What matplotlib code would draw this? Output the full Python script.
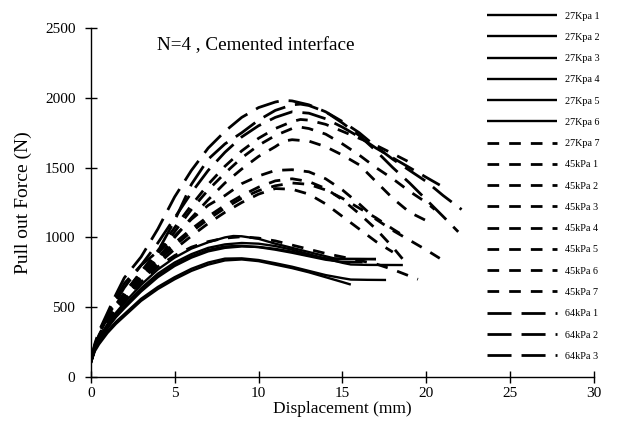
import matplotlib.pyplot as plt

plt.rcParams["font.family"] = ["Liberation Serif", "DejaVu Serif"]
plt.rcParams["lines.scale_dashes"] = False

# 27 kPa, solid curves 1-6 and dashed 7
disp_27_1 = [0, 0.25, 0.5, 1, 1.5, 2, 3, 4, 5, 6, 7, 8, 8.5, 9, 10, 11, 12, 13, 14, 14.5, 15, 16, 17]
force_27_1 = [110, 210, 280, 380, 460, 530, 660, 770, 855, 920, 965, 1000, 1010, 1008, 990, 955, 925, 895, 865, 850, 846, 845, 843]
disp_27_2 = [0, 0.25, 0.5, 1, 1.5, 2, 3, 4, 5, 6, 7, 8, 9, 10, 11, 12, 13, 14, 15, 15.5, 16.5, 18.6]
force_27_2 = [105, 205, 270, 365, 445, 510, 635, 740, 820, 880, 925, 950, 960, 955, 938, 912, 880, 848, 818, 806, 803, 802]
disp_27_3 = [0, 0.25, 0.5, 1, 1.5, 2, 3, 4, 5, 6, 7, 8, 9, 10, 11, 12, 13, 14, 15, 16.2]
force_27_3 = [100, 200, 265, 355, 435, 500, 620, 725, 805, 865, 910, 935, 940, 930, 912, 890, 865, 840, 825, 822]
disp_27_4 = [0, 0.25, 0.5, 1, 1.5, 2, 3, 4, 5, 6, 7, 8, 9, 10, 11, 12, 13, 14, 15, 15.5, 16.5, 17.6]
force_27_4 = [105, 195, 250, 330, 395, 450, 560, 645, 715, 775, 820, 848, 850, 838, 815, 790, 760, 730, 708, 698, 696, 695]
disp_27_5 = [0, 0.25, 0.5, 1, 1.5, 2, 3, 4, 5, 6, 7, 8, 9, 10, 11, 12, 13, 14, 15, 15.5]
force_27_5 = [100, 185, 235, 315, 380, 435, 545, 630, 700, 760, 805, 835, 842, 830, 805, 780, 750, 715, 680, 662]
disp_27_6 = [0, 0.25, 0.5, 1, 1.5, 2, 3, 4, 5, 6, 7, 8, 9, 10, 11, 12, 13, 14, 15, 17]
force_27_6 = [100, 200, 262, 350, 428, 492, 612, 715, 795, 855, 900, 925, 935, 932, 918, 898, 870, 850, 845, 846]
disp_27_7 = [0, 0.25, 0.5, 1, 1.5, 2, 3, 4, 5, 6, 7, 8, 9, 10, 11, 12, 13, 14, 15, 16, 17, 18, 19.5]
force_27_7 = [110, 215, 290, 395, 480, 550, 680, 790, 870, 930, 970, 995, 1005, 995, 975, 945, 915, 885, 860, 835, 810, 770, 700]

# 45 kPa, short dashes
disp_45_1 = [0, 0.25, 0.5, 1, 1.5, 2, 3, 4, 5, 6, 7, 8, 9, 10, 11, 12, 12.5, 13, 14, 15, 16, 17, 18, 19.3]
force_45_1 = [105, 215, 290, 405, 510, 600, 755, 905, 1070, 1230, 1380, 1510, 1620, 1710, 1780, 1830, 1845, 1840, 1810, 1760, 1710, 1660, 1600, 1520]
disp_45_2 = [0, 0.25, 0.5, 1, 1.5, 2, 3, 4, 5, 6, 7, 8, 9, 10, 11, 12, 12.5, 13, 14, 15, 16, 17, 18, 19, 20, 20.5]
force_45_2 = [105, 210, 285, 395, 495, 585, 735, 880, 1040, 1200, 1340, 1460, 1570, 1660, 1730, 1780, 1790, 1780, 1740, 1670, 1590, 1500, 1420, 1330, 1250, 1200]
disp_45_3 = [0, 0.25, 0.5, 1, 1.5, 2, 3, 4, 5, 6, 7, 8, 9, 10, 11, 11.5, 12, 13, 14, 15, 16, 17, 18, 19, 20]
force_45_3 = [100, 205, 280, 385, 480, 565, 710, 850, 1000, 1140, 1270, 1390, 1490, 1580, 1650, 1690, 1700, 1690, 1650, 1590, 1520, 1400, 1280, 1180, 1120]
disp_45_4 = [0, 0.25, 0.5, 1, 1.5, 2, 3, 4, 5, 6, 7, 8, 9, 10, 11, 12, 13, 14, 15, 16, 17, 18, 19, 20, 20.8]
force_45_4 = [110, 220, 300, 420, 520, 600, 750, 890, 1010, 1130, 1230, 1300, 1385, 1440, 1480, 1485, 1470, 1420, 1340, 1240, 1130, 1050, 980, 910, 850]
disp_45_5 = [0, 0.25, 0.5, 1, 1.5, 2, 3, 4, 5, 6, 7, 8, 9, 10, 11, 12, 13, 14, 15, 16, 17, 18, 18.9]
force_45_5 = [110, 220, 300, 410, 500, 575, 720, 850, 960, 1060, 1150, 1230, 1300, 1360, 1405, 1420, 1400, 1350, 1270, 1170, 1060, 930, 800]
disp_45_6 = [0, 0.25, 0.5, 1, 1.5, 2, 3, 4, 5, 6, 7, 8, 9, 10, 11, 12, 13, 14, 15, 16, 17, 18, 18.8]
force_45_6 = [105, 210, 290, 400, 490, 565, 705, 830, 940, 1040, 1130, 1210, 1280, 1335, 1370, 1390, 1380, 1340, 1280, 1210, 1140, 1060, 1000]
disp_45_7 = [0, 0.25, 0.5, 1, 1.5, 2, 3, 4, 5, 6, 7, 8, 9, 10, 11, 12, 13, 14, 15, 16, 17, 18]
force_45_7 = [100, 205, 280, 390, 478, 550, 690, 810, 915, 1010, 1100, 1180, 1250, 1310, 1350, 1345, 1310, 1240, 1150, 1060, 970, 895]

# 64 kPa, long dashes
disp_64_1 = [0, 0.25, 0.5, 1, 1.5, 2, 3, 4, 5, 6, 7, 8, 9, 10, 11, 11.5, 12, 13, 14, 15, 16, 17, 18, 19, 20, 21, 22.1]
force_64_1 = [120, 240, 330, 460, 590, 710, 860, 1060, 1290, 1480, 1640, 1760, 1860, 1930, 1970, 1982, 1978, 1950, 1900, 1830, 1750, 1650, 1560, 1480, 1400, 1300, 1200]
disp_64_2 = [0, 0.25, 0.5, 1, 1.5, 2, 3, 4, 5, 6, 7, 8, 9, 10, 11, 12, 12.5, 13, 14, 15, 16, 17, 18, 19, 20, 21, 21.9]
force_64_2 = [115, 230, 315, 440, 560, 670, 800, 900, 1120, 1380, 1560, 1670, 1750, 1840, 1910, 1950, 1955, 1945, 1900, 1820, 1730, 1620, 1500, 1390, 1270, 1150, 1040]
disp_64_3 = [0, 0.25, 0.5, 1, 1.5, 2, 3, 4, 5, 6, 7, 8, 9, 10, 11, 12, 13, 14, 15, 16, 17, 18, 19, 20, 20.8]
force_64_3 = [110, 225, 305, 425, 540, 640, 800, 960, 1140, 1320, 1480, 1610, 1720, 1800, 1860, 1900, 1890, 1850, 1790, 1720, 1640, 1570, 1500, 1430, 1375]

labels = ["27Kpa 1", "27Kpa 2", "27Kpa 3", "27Kpa 4", "27Kpa 5", "27Kpa 6", "27Kpa 7",
          "45kPa 1", "45kPa 2", "45kPa 3", "45kPa 4", "45kPa 5", "45kPa 6", "45kPa 7",
          "64kPa 1", "64kPa 2", "64kPa 3"]

series = [
    (disp_27_1, force_27_1), (disp_27_2, force_27_2), (disp_27_3, force_27_3),
    (disp_27_4, force_27_4), (disp_27_5, force_27_5), (disp_27_6, force_27_6),
    (disp_27_7, force_27_7),
    (disp_45_1, force_45_1), (disp_45_2, force_45_2), (disp_45_3, force_45_3),
    (disp_45_4, force_45_4), (disp_45_5, force_45_5), (disp_45_6, force_45_6),
    (disp_45_7, force_45_7),
    (disp_64_1, force_64_1), (disp_64_2, force_64_2), (disp_64_3, force_64_3),
]

fig = plt.figure(figsize=(6.17, 4.25), dpi=100)
ax = fig.add_axes([0.147, 0.113, 0.816, 0.821])

for i, ((x, y), lab) in enumerate(zip(series, labels)):
    if i < 6:
        ax.plot(x, y, color="black", lw=1.7, label=lab, solid_capstyle="butt")
    elif i < 14:
        ax.plot(x, y, color="black", lw=2.0, dashes=(8.4, 7.2), label=lab)
    else:
        ax.plot(x, y, color="black", lw=2.0, dashes=(17.3, 7.2), label=lab)

ax.set_xlim(0, 30)
ax.set_ylim(0, 2500)
ax.set_xticks(range(0, 31, 5))
ax.set_yticks(range(0, 2501, 500))
ax.spines["top"].set_visible(False)
ax.spines["right"].set_visible(False)
for s in ("left", "bottom"):
    ax.spines[s].set_linewidth(1.0)
ax.tick_params(direction="inout", length=8, width=1.0, labelsize=11)
ax.tick_params(axis="y", pad=7)
ax.tick_params(axis="x", pad=3)

ax.set_xlabel("Displacement (mm)", fontsize=12.5, labelpad=1)
ax.set_ylabel("Pull out Force (N)", fontsize=14, labelpad=9)
ax.text(3.95, 2377, "N=4 , Cemented interface", fontsize=13.8, va="center")

fig.legend(loc="upper left", bbox_to_anchor=(486.7 / 617, 1 - 11.5 / 425),
           frameon=False, fontsize=7.3, handlelength=6.9, handletextpad=0.8,
           labelspacing=1.2, borderpad=0, borderaxespad=0)

fig.savefig("out.png", dpi=100)
